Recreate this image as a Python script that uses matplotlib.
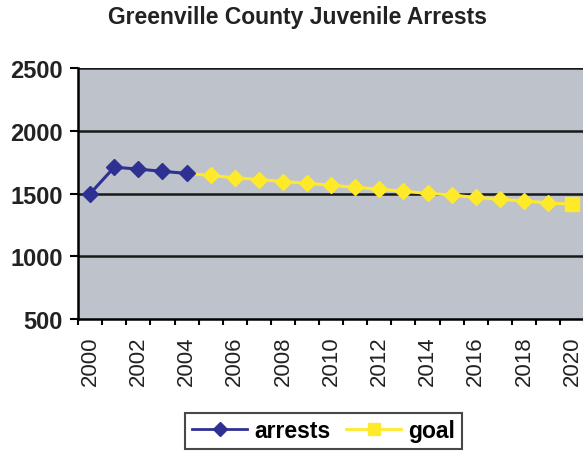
import matplotlib.pyplot as plt
from matplotlib.lines import Line2D

plt.rcParams['font.family'] = ['Liberation Sans', 'DejaVu Sans']

years = [str(y) for y in range(2000, 2021)]
arrests = [1500, 1710, 1695, 1677, 1661]
# goal picks up from the last recorded year
goal = [1661, 1644, 1626, 1612, 1596, 1582, 1566, 1550, 1535, 1518,
        1502, 1488, 1470, 1455, 1440, 1427, 1414]

navy = "#2E3192"
yellow = "#FFEA2A"

fig = plt.figure(figsize=(5.83, 4.6), dpi=100)
ax = fig.add_axes([0.134, 0.304, 0.868, 0.546])
ax.set_facecolor("#BEC2CA")

x_arr = list(range(len(arrests)))
x_goal = list(range(len(arrests) - 1, len(years)))

ax.plot(x_goal, goal, "-", color=yellow, lw=2.2, zorder=3)
ax.plot(x_goal[1:-1], goal[1:-1], "D", color=yellow, ms=8, zorder=4)
ax.plot(x_goal[-1], goal[-1], "s", color=yellow, ms=10.5, zorder=4)
ax.plot(x_arr, arrests, "-D", color=navy, lw=2.2, ms=8, zorder=5)

ax.set_xlim(-0.5, len(years) - 0.5)
ax.set_ylim(500, 2500)
ax.set_yticks([500, 1000, 1500, 2000, 2500])
ax.set_yticklabels(["500", "1000", "1500", "2000", "2500"],
                   fontsize=17, fontweight="bold", color="#222222")
for v in [1000, 1500, 2000, 2500]:
    ax.axhline(v, color="#1a1a1a", lw=1.8, zorder=1)

ax.set_xticks(range(0, len(years), 2))
ax.set_xticklabels(years[::2], rotation=90, fontsize=16, color="#222222")
ax.set_xticks([i - 0.5 for i in range(len(years) + 1)], minor=True)
ax.tick_params(axis="x", which="major", length=0, pad=12)
ax.tick_params(axis="x", which="minor", length=4.5, width=1.5, direction="out")
ax.tick_params(axis="y", length=6, width=1.5, pad=5)

for s in ["top", "right"]:
    ax.spines[s].set_visible(False)
ax.spines["left"].set_linewidth(1.8)
ax.spines["bottom"].set_linewidth(1.8)

fig.text(0.51, 0.961, "Greenville County Juvenile Arrests",
         ha="center", va="center", fontsize=16.5, fontweight="bold", color="#222222")

handles = [
    Line2D([], [], color=navy, lw=2, marker="D", ms=7),
    Line2D([], [], color=yellow, lw=2, marker="s", ms=8.5),
]
leg = fig.legend(handles, ["arrests", "goal"], loc="center",
                 bbox_to_anchor=(0.555, 0.061), ncol=2, frameon=True,
                 fancybox=False, edgecolor="#1a1a1a",
                 prop={"weight": "bold", "size": 16.5}, handlelength=2.4,
                 columnspacing=0.7, handletextpad=0.3, borderpad=0.3,
                 borderaxespad=0)
leg.get_frame().set_linewidth(1.5)

fig.savefig("out.png", dpi=100)
